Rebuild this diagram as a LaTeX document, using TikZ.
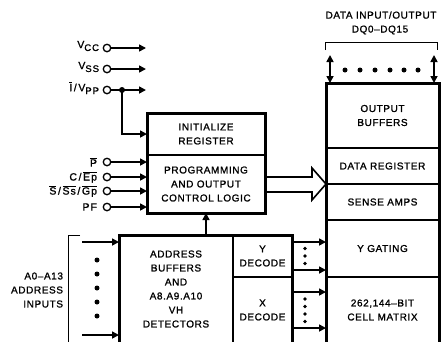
\documentclass[tikz,border=0pt]{standalone}
\usepackage{fontspec}
\setmainfont[LetterSpace=6, FakeBold=1.2]{Liberation Sans}
\newfontfamily\pinfont[LetterSpace=10, FakeBold=1.2]{Liberation Sans}
\usetikzlibrary{arrows.meta}
\newcommand{\ovl}[1]{$\overline{\hbox{#1}}$}
\newcommand{\sbs}[1]{\raisebox{-2.8pt}{\fontsize{9.5}{9.5}\selectfont #1}}
\newcommand{\wsl}{\kern1.6pt/\kern1.6pt}
\begin{document}
\begin{tikzpicture}[x=1pt,y=-1pt,
  every node/.style={font=\fontsize{10}{14}\selectfont, inner sep=0pt, outer sep=0pt},
  blk/.style={draw, line width=1.8pt, align=center},
  frame/.style={line width=3pt},
  wire/.style={line width=1.6pt, -{Triangle[length=7pt,width=7pt]}},
  bus/.style={line width=1.6pt, {Triangle[length=7pt,width=7pt]}-{Triangle[length=7pt,width=7pt]}},
  pin/.style={circle, draw, line width=1.3pt, minimum size=7.5pt, fill=white},
  dot/.style={circle, fill, minimum size=5pt},
  lbl/.style={anchor=east, align=right},
  pinlbl/.style={anchor=east, font=\pinfont\fontsize{10.5}{12}\selectfont},
  brk/.style={line width=0.9pt},
]
\useasboundingbox (0,0) rectangle (441,341);
\clip (0,0) rectangle (441,341);

% control block
\node[blk, minimum width=118pt, minimum height=42pt] (init) at (206,134) {INITIALIZE\\REGISTER};
\node[blk, minimum width=118pt, minimum height=58pt] (ctrl) at (206,184) {PROGRAMMING\\AND OUTPUT\\CONTROL LOGIC};
\draw[frame] (init.north west) rectangle (ctrl.south east);

% address block
\node[blk, minimum width=114pt, minimum height=108pt] (addr) at (176,289) {ADDRESS\\BUFFERS\\AND\\A8.A9.A10\\VH\\DETECTORS};
\node[blk, minimum width=59pt, minimum height=42pt] (ydec) at (262.5,256) {Y\\DECODE};
\node[blk, minimum width=59pt, minimum height=66pt] (xdec) at (262.5,310) {X\\DECODE};
\draw[frame] (addr.north west) rectangle (xdec.south east);

% memory column
\node[blk, minimum width=113pt, minimum height=65pt] (obuf) at (382.5,115.5) {OUTPUT\\BUFFERS};
\node[blk, minimum width=113pt, minimum height=36pt] (dreg) at (382.5,166) {DATA REGISTER};
\node[blk, minimum width=113pt, minimum height=36pt] (sense) at (382.5,202) {SENSE AMPS};
\node[blk, minimum width=113pt, minimum height=57pt] (ygate) at (382.5,248.5) {Y GATING};
\node[blk, minimum width=113pt, minimum height=66pt] (cell) at (382.5,310) {262,144--BIT\\CELL MATRIX};
\draw[frame] (obuf.north west) rectangle (cell.south east);

% supply pins
\node[pin] (vcc) at (107,48) {};
\node[pin] (vss) at (107,69) {};
\node[pin] (vpp) at (107,90) {};
\node[pinlbl] (lvcc) at (99,46) {V\sbs{CC}};
\node[pinlbl] (lvss) at (99,67) {V\sbs{SS}};
\node[pinlbl] (lvpp) at (99,88) {\ovl{I}\wsl V\sbs{PP}};
\coordinate (ecc) at (146,48);
\coordinate (ess) at (146,69);
\coordinate (epp) at (146,90);
\coordinate (jpp) at (122,90);
\draw[wire] (vcc) -- (ecc);
\draw[wire] (vss) -- (ess);
\draw[wire] (vpp) -- (epp);
\fill (jpp) circle (3pt);
\draw[wire] (jpp) |- (init.west);

% control pins
\node[pin] (pp) at (107,162) {};
\node[pin] (pce) at (107,177) {};
\node[pin] (pss) at (107,191) {};
\node[pin] (ppf) at (107,207) {};
\node[pinlbl] (lp) at (97,162) {\ovl{P}};
\node[pinlbl] (lce) at (97,177) {C\wsl\ovl{Ep}};
\node[pinlbl] (lss) at (97,191) {\ovl{S}\wsl\ovl{Ss}\wsl\ovl{Gp}};
\node[pinlbl] (lpf) at (97,207) {PF};
\draw[wire] (pp) -- (ctrl.west |- pp);
\draw[wire] (pce) -- (ctrl.west |- pce);
\draw[wire] (pss) -- (ctrl.west |- pss);
\draw[wire] (ppf) -- (ctrl.west |- ppf);

% address inputs
\node[lbl] (lad) at (63,290) {A0--A13\\ADDRESS\\INPUTS};
\coordinate (bt) at (80,235);
\coordinate (bc) at (68,235);
\coordinate (bb) at (68,345);
\draw[brk] (bt) -- (bc) -- (bb);
\coordinate (a1) at (82,242);
\coordinate (a2) at (82,335);
\draw[wire] (a1) -- (addr.west |- a1);
\draw[wire] (a2) -- (addr.west |- a2);
\foreach \y [count=\i] in {260,274,288,302,316} \node[dot] (ad\i) at (97,\y) {};

\draw[wire] (ctrl.south |- addr.north) -- (ctrl.south);

% decoder outputs
\foreach \y [count=\i] in {242,270,292,328} {
  \coordinate (d\i) at (292,\y);
  \draw[wire] (d\i) -- (ygate.west |- d\i);
}
\foreach \y [count=\i] in {248.5,256,263.5} \node[dot, minimum size=3.8pt] (yd\i) at (305,\y) {};
\foreach \y [count=\i] in {299,306.5,314,321.5} \node[dot, minimum size=3.8pt] (xd\i) at (305,\y) {};

% wide data path from control logic
\draw[line width=1.6pt, line join=miter] (ctrl.east) ++(0,-7) -- ++(47,0) -- ++(0,-9)
  -- (sense.north west) -- ++(-14,16) -- ++(0,-8) -- ++(-47,0);

% data bus
\node (ldio) at (381,15) {DATA INPUT/OUTPUT};
\node (ldq) at (380,30) {DQ0--DQ15};
\coordinate (k1) at (325,50);
\coordinate (k2) at (325,42);
\coordinate (k3) at (437,42);
\coordinate (k4) at (437,50);
\draw[brk] (k1) -- (k2) -- (k3) -- (k4);
\coordinate (b1) at (330,55);
\coordinate (b2) at (434,55);
\draw[bus] (b1) -- (obuf.north -| b1);
\draw[bus] (b2) -- (obuf.north -| b2);
\foreach \x [count=\i] in {345,360,375,390,404,418} \node[dot] (dd\i) at (\x,70) {};
\end{tikzpicture}
\end{document}
